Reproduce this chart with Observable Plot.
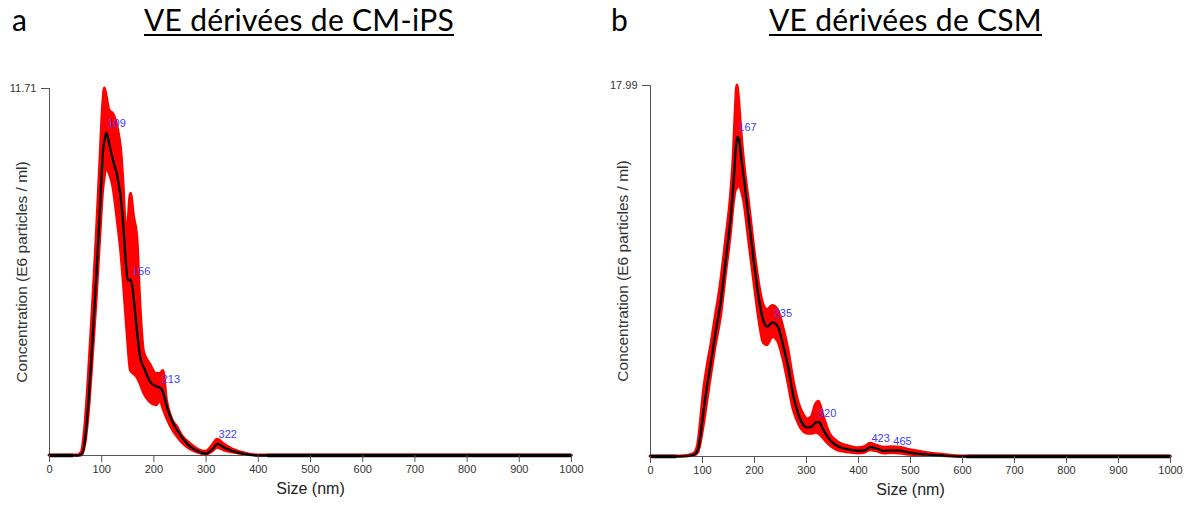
<!DOCTYPE html>
<html><head><meta charset="utf-8">
<script src="https://cdn.jsdelivr.net/npm/d3@7"></script>
<script src="https://cdn.jsdelivr.net/npm/@observablehq/plot@0.6"></script>
<style>
body{margin:0;background:#fff;}
#wrap{position:relative;width:1204px;height:506px;overflow:hidden;background:#fff;}
.panel{position:absolute;top:0;z-index:1;}
.hdr{position:absolute;top:4px;z-index:2;font-family:Lato,"Open Sans",sans-serif;font-size:30px;line-height:1;color:#000;white-space:nowrap;}
.title{text-decoration:underline;text-decoration-thickness:2px;text-underline-offset:3px;}
</style></head>
<body>
<div id="wrap">
  <div class="panel" id="pa" style="left:0px"></div>
  <div class="panel" id="pb" style="left:600px"></div>
  <div class="hdr" id="la" style="left:12px">a</div>
  <div class="hdr title" id="ta">VE dérivées de CM-iPS</div>
  <div class="hdr" id="lb" style="left:611px">b</div>
  <div class="hdr title" id="tb">VE dérivées de CSM</div>
</div>
<script>
// ---------- Panel a : VE dérivées de CM-iPS ----------
const sizeA  = [0, 45, 55, 62, 68, 75, 82, 90, 97, 103, 106, 109, 115, 122, 130, 138, 142, 146, 150, 156, 162, 168, 174, 181, 193, 205, 213, 218, 225, 235, 245, 255, 264, 275, 290, 300, 312, 322, 335, 350, 370, 400, 1000];
const meanA  = [0, 0, 0, 0.05, 0.5, 1.8, 3.6, 5.8, 8.0, 9.8, 10.1, 10.3, 9.9, 9.4, 8.9, 8.0, 7.2, 6.2, 5.6, 5.6, 4.9, 3.9, 3.1, 2.8, 2.35, 2.2, 2.15, 2.0, 1.55, 1.1, 0.8, 0.55, 0.37, 0.22, 0.1, 0.06, 0.2, 0.37, 0.25, 0.15, 0.06, 0, 0];
const upperA = [0, 0, 0, 0.1, 0.8, 2.4, 4.4, 6.8, 9.2, 11.2, 11.71, 11.5, 11.0, 10.9, 10.5, 9.6, 8.6, 7.4, 7.3, 8.35, 7.6, 7.0, 4.85, 3.3, 2.9, 2.6, 2.6, 2.7, 1.75, 1.15, 0.9, 0.6, 0.45, 0.3, 0.15, 0.12, 0.3, 0.5, 0.35, 0.2, 0.08, 0, 0];
const lowerA = [0, 0, 0, 0, 0.3, 1.3, 2.9, 4.9, 6.9, 8.5, 8.9, 9.2, 9.0, 8.6, 7.6, 6.4, 5.6, 4.7, 3.8, 2.7, 2.6, 2.5, 2.3, 2.0, 1.7, 1.6, 1.75, 1.5, 1.2, 0.85, 0.6, 0.4, 0.27, 0.15, 0.06, 0.03, 0.12, 0.25, 0.16, 0.1, 0.04, 0, 0];
const peakSizeA = [109, 156, 213, 322];
const peakConcA = [10.3, 5.6, 2.15, 0.37];
const flatA = [[0, 46], [418, 1000]];
const yMaxA = 11.71;

// ---------- Panel b : VE dérivées de CSM ----------
const sizeB  = [0, 50, 70, 85, 92, 97, 103, 110, 117, 125, 135, 145, 155, 160, 164, 167, 170, 174, 180, 190, 200, 210, 218, 225, 235, 245, 255, 265, 275, 285, 295, 302, 310, 318, 324, 332, 345, 360, 380, 400, 412, 423, 435, 450, 465, 480, 500, 530, 560, 600, 1000];
const meanB  = [0, 0, 0.02, 0.1, 0.4, 1.2, 2.4, 3.6, 4.7, 6.0, 7.5, 9.6, 11.8, 13.4, 14.9, 15.5, 15.4, 14.6, 13.4, 11.3, 9.2, 7.4, 6.5, 6.3, 6.5, 6.3, 5.4, 4.3, 2.9, 2.0, 1.5, 1.4, 1.45, 1.65, 1.67, 1.3, 0.8, 0.5, 0.35, 0.28, 0.3, 0.45, 0.38, 0.27, 0.3, 0.28, 0.18, 0.1, 0.05, 0, 0];
const upperB = [0, 0, 0.03, 0.15, 0.6, 1.7, 3.2, 4.4, 5.4, 6.7, 8.3, 10.4, 12.7, 14.5, 16.8, 17.99, 17.4, 16.0, 14.3, 12.2, 10.0, 8.2, 7.3, 7.1, 7.3, 7.1, 6.3, 5.2, 3.7, 2.6, 2.0, 1.8, 1.9, 2.5, 2.65, 2.0, 1.1, 0.7, 0.5, 0.4, 0.45, 0.62, 0.52, 0.42, 0.45, 0.42, 0.3, 0.17, 0.08, 0, 0];
const lowerB = [0, 0, 0.01, 0.05, 0.2, 0.7, 1.6, 2.8, 4.0, 5.3, 6.7, 8.8, 10.9, 12.2, 12.9, 13.0, 13.2, 13.0, 12.4, 10.4, 8.4, 6.5, 5.5, 5.4, 5.8, 5.6, 4.8, 3.6, 2.3, 1.6, 1.2, 1.1, 1.1, 1.15, 1.1, 0.9, 0.55, 0.3, 0.2, 0.15, 0.18, 0.3, 0.25, 0.15, 0.17, 0.15, 0.08, 0.04, 0.02, 0, 0];
const peakSizeB = [167, 235, 320, 423, 465];
const peakConcB = [15.5, 6.5, 1.67, 0.45, 0.3];
const flatB = [[0, 50], [608, 1000]];
const yMaxB = 17.99;

const xTicks = [0, 100, 200, 300, 400, 500, 600, 700, 800, 900, 1000];
const xLabel = "Size (nm)";
const yLabel = "Concentration (E6 particles / ml)";

function panel(sizes, mean, upper, lower, pSize, pConc, flats, yMax, dims) {
  const rows = sizes.map((x, i) => ({x, m: mean[i], hi: upper[i], lo: lower[i]}));
  const peaks = pSize.map((x, i) => ({x, y: pConc[i]}));
  return Plot.plot({
    width: dims.width, height: 506,
    marginLeft: dims.ml, marginRight: dims.mr, marginTop: dims.mt, marginBottom: dims.mb,
    style: {fontFamily: "'Liberation Sans', Arial, sans-serif", fontSize: "11px", color: "#333", background: "transparent"},
    x: {domain: [0, 1000]},
    y: {domain: [0, yMax]},
    marks: [
      Plot.areaY(rows, {x: "x", y1: "lo", y2: "hi", fill: "#ff0000", stroke: "#ff0000", strokeWidth: 3, strokeLinejoin: "round", curve: "monotone-x"}),
      Plot.ruleY([0], {stroke: "#555", strokeWidth: 1}),
      Plot.ruleX([0], {stroke: "#555", strokeWidth: 1}),
      Plot.lineY(rows, {x: "x", y: "m", stroke: "#000", strokeWidth: 2.3, curve: "monotone-x"}),
      Plot.ruleY(flats, {x1: d => d[0], x2: d => d[1], y: 0, stroke: "#000", strokeWidth: 3.5}),
      Plot.text(peaks, {x: "x", y: "y", text: d => String(d.x), textAnchor: "start", dx: 1, dy: -9, fill: "#3c3cff", fontSize: 11}),
      Plot.axisX({ticks: xTicks, tickSize: 7, tickPadding: 3, label: null, tickFormat: d => String(d), stroke: "#555", fill: "#333"}),
      Plot.axisY({ticks: [yMax], tickSize: 8, tickPadding: 5, label: null, tickFormat: d => d.toFixed(2), stroke: "#555", fill: "#333"}),
      Plot.text([xLabel], {frameAnchor: "bottom", dy: 38, fontSize: 16, fill: "#222"}),
      Plot.text([yLabel], {frameAnchor: "left", textAnchor: "middle", dx: -27, rotate: -90, fontSize: 15.5, fill: "#333"})
    ]
  });
}

document.getElementById("pa").appendChild(
  panel(sizeA, meanA, upperA, lowerA, peakSizeA, peakConcA, flatA, yMaxA, {width: 600, ml: 49, mr: 29, mt: 88, mb: 51}));
document.getElementById("pb").appendChild(
  panel(sizeB, meanB, upperB, lowerB, peakSizeB, peakConcB, flatB, yMaxB, {width: 604, ml: 50, mr: 34, mt: 85, mb: 50}));

// fit titles to their measured extent in the reference (fixed size, adjusted spacing)
function fit(id, left, right) {
  const el = document.getElementById(id);
  const w = el.getBoundingClientRect().width;
  const n = el.textContent.length;
  el.style.letterSpacing = ((right - left) - w) / n + "px";
  el.style.left = left + "px";
}
fit("ta", 144, 454);
fit("tb", 769, 1042);
</script>
</body></html>
